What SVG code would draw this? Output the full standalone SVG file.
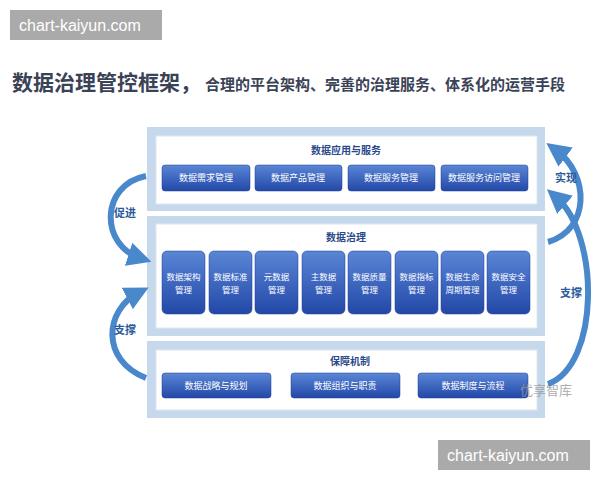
<svg xmlns="http://www.w3.org/2000/svg" width="600" height="480" viewBox="0 0 600 480">
<defs>
<linearGradient id="btn" x1="0" y1="0" x2="0" y2="1"><stop offset="0" stop-color="#5a86d6"/><stop offset="1" stop-color="#2348a8"/></linearGradient>
<marker id="ah" viewBox="0 0 10 10" refX="5" refY="5" markerWidth="4" markerHeight="4" orient="auto"><path d="M0,0 L10,5 L0,10 z" fill="#4a88cc"/></marker>
<style>
.band{fill:#c5d8ec}.inner{fill:#fff;stroke:#dde6f0}
.b{fill:url(#btn);stroke:#1e3f96;stroke-width:0.5}
.t{font-family:"Noto Sans CJK SC","Noto Sans",sans-serif;fill:#fff;font-size:9px;text-anchor:middle}
.s{font-family:"Noto Sans CJK SC","Noto Sans",sans-serif;fill:#fff;font-size:8.5px;text-anchor:middle}
.h{font-family:"Noto Sans CJK SC",sans-serif;fill:#2a4a8a;font-size:10px;font-weight:bold;text-anchor:middle}
.l{font-family:"Noto Sans CJK SC",sans-serif;fill:#2a5a9a;font-size:11px;font-weight:bold;text-anchor:middle}
.c{fill:none;stroke:#4a88cc;stroke-width:6;marker-end:url(#ah)}
.wm{fill:#aaa}.wt{font-family:"Liberation Sans",sans-serif;fill:#fff;font-size:16px}
</style>
</defs>
<rect width="600" height="480" fill="#fff"/>
<rect class="wm" x="10" y="10" width="152" height="30"/><text class="wt" x="19" y="31">chart-kaiyun.com</text>
<rect class="wm" x="438" y="440" width="152" height="30"/><text class="wt" x="447" y="461">chart-kaiyun.com</text>
<text x="12" y="90" font-family="Noto Sans CJK SC,sans-serif" font-size="21" font-weight="bold" fill="#3a4255">数据治理管控框架，</text>
<text x="205" y="90" font-family="Noto Sans CJK SC,sans-serif" font-size="15" font-weight="bold" fill="#3a4255">合理的平台架构、完善的治理服务、体系化的运营手段</text>
<g id="layer1"><rect class="band" x="147" y="127" width="398" height="84"/><rect class="inner" x="156" y="136" width="381" height="68"/><text class="h" x="346" y="154">数据应用与服务</text>
<rect class="b" x="162" y="165" width="88" height="26" rx="3"/><text class="t" x="206" y="181">数据需求管理</text>
<rect class="b" x="255" y="165" width="87" height="26" rx="3"/><text class="t" x="298" y="181">数据产品管理</text>
<rect class="b" x="348" y="165" width="87" height="26" rx="3"/><text class="t" x="391" y="181">数据服务管理</text>
<rect class="b" x="441" y="165" width="87" height="26" rx="3"/><text class="t" x="484" y="181">数据服务访问管理</text></g>
<g id="layer2"><rect class="band" x="147" y="216" width="398" height="120"/><rect class="inner" x="156" y="224" width="381" height="104"/><text class="h" x="346" y="241">数据治理</text>
<rect class="b" x="162" y="251" width="43" height="63" rx="5"/><text class="s" x="183.5" y="280">数据架构</text><text class="s" x="183.5" y="293">管理</text>
<rect class="b" x="209" y="251" width="43" height="63" rx="5"/><text class="s" x="230.5" y="280">数据标准</text><text class="s" x="230.5" y="293">管理</text>
<rect class="b" x="255" y="251" width="43" height="63" rx="5"/><text class="s" x="276.5" y="280">元数据</text><text class="s" x="276.5" y="293">管理</text>
<rect class="b" x="302" y="251" width="43" height="63" rx="5"/><text class="s" x="323.5" y="280">主数据</text><text class="s" x="323.5" y="293">管理</text>
<rect class="b" x="348" y="251" width="43" height="63" rx="5"/><text class="s" x="369.5" y="280">数据质量</text><text class="s" x="369.5" y="293">管理</text>
<rect class="b" x="395" y="251" width="43" height="63" rx="5"/><text class="s" x="416.5" y="280">数据指标</text><text class="s" x="416.5" y="293">管理</text>
<rect class="b" x="441" y="251" width="43" height="63" rx="5"/><text class="s" x="462.5" y="280">数据生命</text><text class="s" x="462.5" y="293">周期管理</text>
<rect class="b" x="487" y="251" width="43" height="63" rx="5"/><text class="s" x="508.5" y="280">数据安全</text><text class="s" x="508.5" y="293">管理</text>
</g>
<g id="layer3"><rect class="band" x="147" y="341" width="398" height="77"/><rect class="inner" x="156" y="350" width="381" height="60"/><text class="h" x="350" y="365">保障机制</text>
<rect class="b" x="162" y="373" width="109" height="25" rx="3"/><text class="t" x="216" y="389">数据战略与规划</text>
<rect class="b" x="291" y="373" width="109" height="25" rx="3"/><text class="t" x="345" y="389">数据组织与职责</text>
<rect class="b" x="418" y="373" width="110" height="25" rx="3"/><text class="t" x="473" y="389">数据制度与流程</text></g>
<text x="520" y="395" font-family="Noto Sans CJK SC,sans-serif" font-size="13" fill="#999" opacity="0.8">优享智库</text>
<g id="connectors">
<path class="c" d="M146,176 C100,185 100,245 140,258"/>
<path class="c" d="M146,378 C100,360 105,310 138,293"/>
<path class="c" d="M548,242 C590,230 590,175 556,150"/>
<path class="c" d="M548,384 C600,365 600,235 556,197"/>
</g>
<text class="l" x="125" y="217">促进</text>
<text class="l" x="125" y="334">支撑</text>
<text class="l" x="566" y="182">实现</text>
<text class="l" x="571" y="297">支撑</text>
</svg>
